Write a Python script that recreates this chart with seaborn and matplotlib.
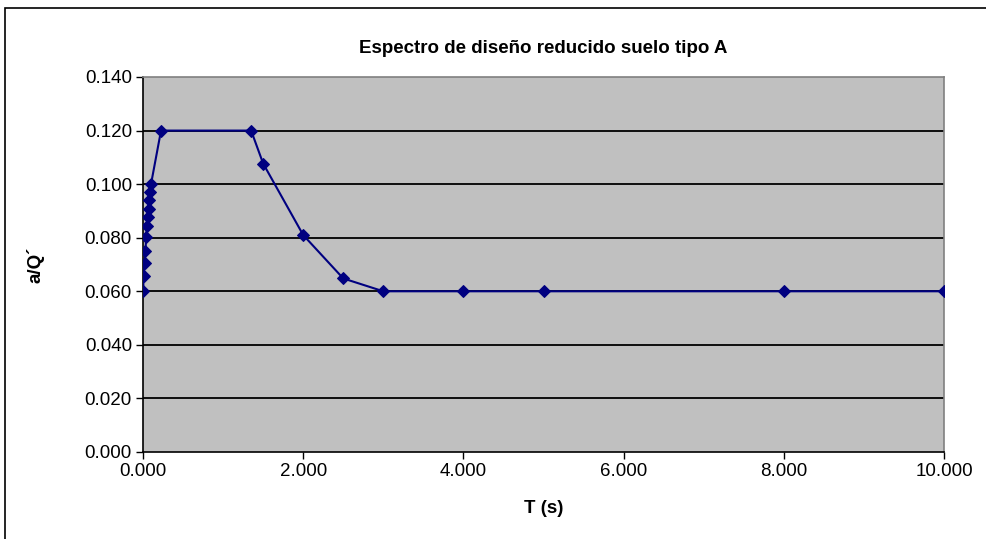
import pandas as pd
import matplotlib
matplotlib.use("Agg")
import matplotlib.pyplot as plt
import seaborn as sns
from matplotlib.patches import Rectangle

# Datos
periodo = [0.00, 0.01, 0.02, 0.03, 0.04, 0.05, 0.06, 0.07, 0.08, 0.09, 0.10,
           0.225, 1.35, 1.50, 2.00, 2.50, 3.00, 4.00, 5.00, 8.00, 10.00]
aceleracion = [0.060, 0.0657, 0.0704, 0.0751, 0.0801, 0.0843, 0.0877, 0.0908,
               0.0940, 0.0971, 0.100, 0.120, 0.120, 0.1077, 0.081, 0.0648,
               0.060, 0.060, 0.060, 0.060, 0.060]
y_ticks = [0.000, 0.020, 0.040, 0.060, 0.080, 0.100, 0.120, 0.140]
x_ticks = [0, 2, 4, 6, 8, 10]

df = pd.DataFrame({"T": periodo, "a": aceleracion})

sns.set_style("white")
plt.rcParams["font.family"] = ["Liberation Sans", "DejaVu Sans"]
plt.rcParams["text.color"] = "black"
plt.rcParams["axes.labelcolor"] = "black"

fig = plt.figure(figsize=(9.86, 5.39), dpi=100)
ax = fig.add_axes([143 / 986, 1 - 452 / 539, (944 - 143) / 986, (452 - 77) / 539])
ax.set_facecolor("#C0C0C0")

# marco exterior del gráfico
fig.patches.append(Rectangle((5 / 986, -0.05), 1.1, 1 - 8 / 539 + 0.05,
                             transform=fig.transFigure, fill=False,
                             edgecolor="black", linewidth=1.2))

for yv in y_ticks[1:-1]:
    ax.axhline(yv, color="black", linewidth=1.3, zorder=1)

sns.lineplot(data=df, x="T", y="a", ax=ax, color="#000080", linewidth=1.5,
             marker="D", markersize=6, markeredgecolor="#000080", zorder=3,
             sort=False)

ax.set_xlim(0, 10)
ax.set_ylim(0, 0.14)
ax.set_xticks(x_ticks)
ax.set_xticklabels([f"{v:.3f}" for v in x_ticks], fontsize=13.5)
ax.set_yticks(y_ticks)
ax.set_yticklabels([f"{v:.3f}" for v in y_ticks], fontsize=13.5)
ax.tick_params(axis="both", direction="out", length=5, width=1,
               colors="black", bottom=True, left=True, pad=3)

for side in ["top", "right"]:
    ax.spines[side].set_color("#808080")
    ax.spines[side].set_linewidth(1.2)
for side in ["left", "bottom"]:
    ax.spines[side].set_color("black")
    ax.spines[side].set_linewidth(1.2)

ax.set_title("Espectro de diseño reducido suelo tipo A", fontsize=13.5,
             fontweight="bold", pad=17, color="black")
ax.set_xlabel("T (s)", fontsize=13.5, fontweight="bold", labelpad=14)
ax.set_ylabel("a/Q´", fontsize=13.5, fontweight="bold", labelpad=29)

fig.savefig("out.png", dpi=100)
